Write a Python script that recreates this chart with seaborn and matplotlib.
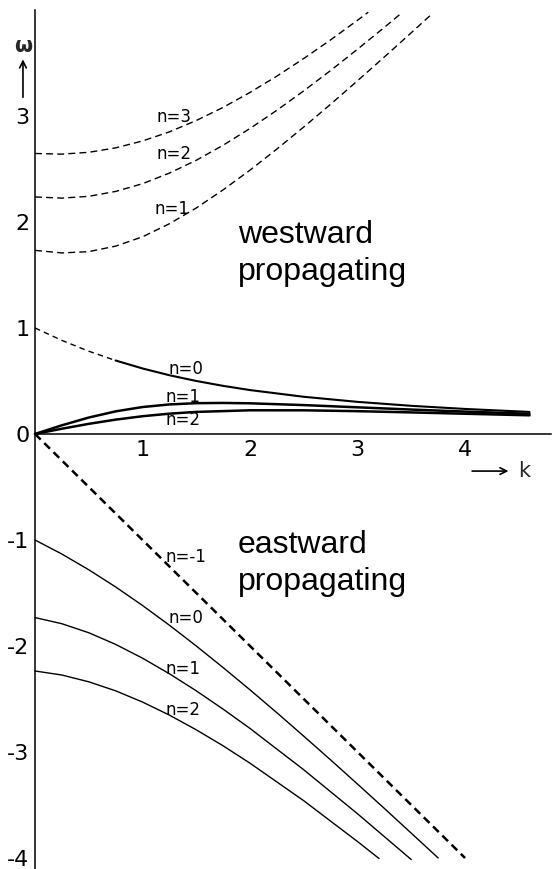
import matplotlib
matplotlib.use("Agg")
import matplotlib.pyplot as plt
import seaborn as sns

# ---------------- data ----------------
# westward inertia-gravity waves (upper dashed curves)
k_ig1 = [0, 0.25, 0.5, 0.75, 1, 1.25, 1.5, 1.75, 2, 2.25, 2.5, 2.75, 3, 3.25, 3.5, 3.7]
w_ig1 = [1.732, 1.708, 1.720, 1.772, 1.860, 1.983, 2.132, 2.303, 2.489, 2.688, 2.896, 3.111, 3.332, 3.557, 3.785, 3.970]
k_ig2 = [0, 0.25, 0.5, 0.75, 1, 1.25, 1.5, 1.75, 2, 2.25, 2.5, 2.75, 3, 3.25, 3.4]
w_ig2 = [2.236, 2.225, 2.242, 2.288, 2.361, 2.461, 2.582, 2.724, 2.882, 3.054, 3.237, 3.429, 3.630, 3.836, 3.963]
k_ig3 = [0, 0.25, 0.5, 0.75, 1, 1.25, 1.5, 1.75, 2, 2.25, 2.5, 2.75, 3, 3.1]
w_ig3 = [2.646, 2.640, 2.657, 2.699, 2.764, 2.850, 2.957, 3.081, 3.222, 3.376, 3.542, 3.718, 3.903, 3.979]

# n=0 upper branch (dashed start, then solid)
k_mrg_dash = [0, 0.25, 0.5, 0.75]
w_mrg_dash = [1.0, 0.8828, 0.7808, 0.6930]
k_mrg_solid = [0.75, 1, 1.25, 1.5, 1.75, 2, 2.5, 3, 3.5, 4, 4.6]
w_mrg_solid = [0.6930, 0.6180, 0.5542, 0.5000, 0.4538, 0.4142, 0.3508, 0.3028, 0.2656, 0.2361, 0.2080]

# Rossby waves n=1, n=2
k_ro1 = [0, 0.25, 0.5, 0.75, 1, 1.25, 1.5, 1.75, 2, 2.5, 3, 3.5, 4, 4.6]
w_ro1 = [0, 0.0818, 0.1550, 0.2133, 0.2541, 0.2787, 0.2904, 0.2928, 0.2892, 0.2725, 0.2513, 0.2303, 0.2110, 0.1907]
k_ro2 = [0, 0.25, 0.5, 0.75, 1, 1.25, 1.5, 2, 2.5, 3, 3.5, 4, 4.6]
w_ro2 = [0, 0.0494, 0.0954, 0.1353, 0.1674, 0.1915, 0.2081, 0.2234, 0.2232, 0.2150, 0.2034, 0.1908, 0.1760]

# Kelvin wave n=-1
k_kel = [0, 1, 2, 3, 4]
w_kel = [0, -1, -2, -3, -4]

# eastward branches n=0, 1, 2
k_e0 = [0, 0.25, 0.5, 0.75, 1, 1.25, 1.5, 1.75, 2, 2.25, 2.5, 2.75, 3, 3.25, 3.5, 3.75]
w_e0 = [-1.0, -1.133, -1.281, -1.443, -1.618, -1.804, -2.0, -2.204, -2.414, -2.630, -2.851, -3.075, -3.303, -3.533, -3.766, -4.0]
k_e1 = [0, 0.25, 0.5, 0.75, 1, 1.25, 1.5, 1.75, 2, 2.5, 3, 3.5]
w_e1 = [-1.732, -1.790, -1.875, -1.985, -2.115, -2.262, -2.423, -2.596, -2.778, -3.168, -3.583, -4.015]
k_e2 = [0, 0.25, 0.5, 0.75, 1, 1.25, 1.5, 1.75, 2, 2.5, 3, 3.2]
w_e2 = [-2.236, -2.274, -2.338, -2.423, -2.529, -2.652, -2.791, -2.942, -3.106, -3.460, -3.845, -4.005]

# ticks and labels
x_ticks = [1, 2, 3, 4]
x_ticklabels = ["1", "2", "3", "4"]
y_ticks = [-4, -3, -2, -1, 0, 1, 2, 3]
y_ticklabels = ["-4", "-3", "-2", "-1", "0", "1", "2", "3"]

curve_labels = ["n=3", "n=2", "n=1", "n=0", "n=1", "n=2", "n=-1", "n=0", "n=1", "n=2"]
label_k = [1.29, 1.29, 1.27, 1.40, 1.38, 1.38, 1.40, 1.40, 1.38, 1.38]
label_w = [2.99, 2.64, 2.12, 0.61, 0.35, 0.13, -1.16, -1.74, -2.22, -2.60]

# ---------------- plotting ----------------
sns.set_style("white")
plt.rcParams["font.family"] = ["DejaVu Sans"]

fig = plt.figure(figsize=(5.52, 8.69), dpi=100)
ax = fig.add_axes([0, 0, 1, 1])


def draw(k, w, lw, ls="-"):
    sns.lineplot(x=k, y=w, ax=ax, color="black", linewidth=lw,
                 linestyle=ls, estimator=None, sort=False)


dash_thin = (0, (5, 3))
draw(k_ig1, w_ig1, 1.0, dash_thin)
draw(k_ig2, w_ig2, 1.0, dash_thin)
draw(k_ig3, w_ig3, 1.0, dash_thin)
draw(k_mrg_dash, w_mrg_dash, 1.0, (0, (4, 3)))
draw(k_mrg_solid, w_mrg_solid, 1.5)
draw(k_ro1, w_ro1, 1.8)
draw(k_ro2, w_ro2, 1.8)
draw(k_kel, w_kel, 1.8, (0, (3.2, 2.0)))
draw(k_e0, w_e0, 1.0)
draw(k_e1, w_e1, 1.0)
draw(k_e2, w_e2, 1.0)

ax.set_xlim(-0.3256, 4.809)
ax.set_ylim(-4.104, 4.094)

for s in ["top", "right"]:
    ax.spines[s].set_visible(False)
ax.spines["left"].set_position(("data", 0))
ax.spines["bottom"].set_position(("data", 0))
ax.spines["left"].set_bounds(-4.1, 4.0)
ax.spines["bottom"].set_bounds(0, 4.8)
for s in ["left", "bottom"]:
    ax.spines[s].set_color("black")
    ax.spines[s].set_linewidth(1.1)

ax.set_xticks(x_ticks)
ax.set_xticklabels(x_ticklabels)
ax.set_yticks(y_ticks)
ax.set_yticklabels(y_ticklabels)
ax.tick_params(axis="both", length=0, labelsize=16, colors="black")
ax.tick_params(axis="y", pad=4)
ax.tick_params(axis="x", pad=4)
ax.set_xlabel("")
ax.set_ylabel("")

for txt, kx, wy in zip(curve_labels, label_k, label_w):
    ax.text(kx, wy, txt, fontsize=12, ha="center", va="center", color="black")

big = dict(fontsize=23, family=["Liberation Sans", "DejaVu Sans"], color="black",
           ha="left", va="baseline")
ax.text(1.888, 1.80, "westward", **big)
ax.text(1.888, 1.453, "propagating", **big)
ax.text(1.888, -1.123, "eastward", **big)
ax.text(1.888, -1.472, "propagating", **big)

# omega axis symbol with arrow
ax.text(-0.112, 3.66, "ω", fontsize=15, fontweight="bold", ha="center", va="center")
ax.annotate("", xy=(-0.112, 3.56), xytext=(-0.112, 3.15),
            arrowprops=dict(arrowstyle="->", color="black", lw=1.2, mutation_scale=12))
# k axis arrow
ax.annotate("", xy=(4.43, -0.35), xytext=(4.04, -0.35),
            arrowprops=dict(arrowstyle="->", color="black", lw=1.2, mutation_scale=12))
ax.text(4.55, -0.35, "k", fontsize=15, ha="center", va="center")

fig.savefig("out.png", dpi=100)
